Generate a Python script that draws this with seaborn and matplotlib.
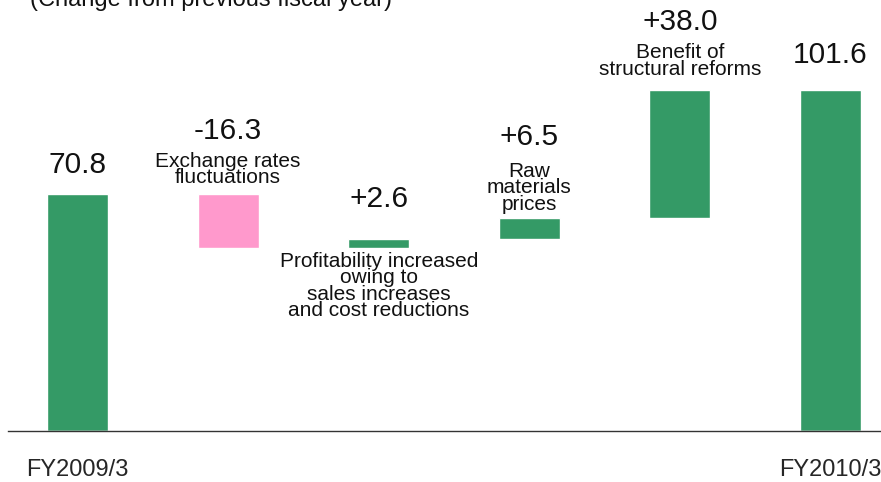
import numpy as np
import pandas as pd
import matplotlib
matplotlib.use("Agg")
import matplotlib.pyplot as plt
import seaborn as sns

# data
steps = ["FY2009/3", "Exchange", "Profitability", "Raw materials", "Structural", "FY2010/3"]
tick_labels = ["FY2009/3", "", "", "", "", "FY2010/3"]
start_value = 70.8
changes = [-16.3, 2.6, 6.5, 38.0]
end_value = 101.6
value_labels = ["70.8", "-16.3", "+2.6", "+6.5", "+38.0", "101.6"]
descriptions = [
    "",
    "Exchange rates\nfluctuations",
    "Profitability increased\nowing to\nsales increases\nand cost reductions",
    "Raw\nmaterials\nprices",
    "Benefit of\nstructural reforms",
    "",
]

green = "#349a66"
pink = "#ff99cc"

# waterfall bottoms / tops
levels = np.cumsum([start_value] + changes)
bottoms = [0.0] + [min(levels[i], levels[i + 1]) for i in range(len(changes))] + [0.0]
tops = [start_value] + [max(levels[i], levels[i + 1]) for i in range(len(changes))] + [end_value]
colors = [green] + [green if c >= 0 else pink for c in changes] + [green]

df = pd.DataFrame({"step": steps, "top": tops, "bottom": bottoms})

sns.set_style("white")
plt.rcParams["font.family"] = ["Liberation Sans", "DejaVu Sans"]

fig = plt.figure(figsize=(8.81, 4.82), dpi=100)
ax = fig.add_axes([0, 51 / 482, 1, 431 / 482])

sns.barplot(data=df, x="step", y="top", hue="step", palette=colors,
            width=0.405, legend=False, ax=ax, saturation=1)
sns.barplot(data=df, x="step", y="bottom", color="white",
            width=0.42, ax=ax, saturation=1)

ax.set_xlim(-0.515, 5.335)
ax.set_ylim(0, 128.5)

for s in ["top", "right", "left"]:
    ax.spines[s].set_visible(False)
ax.spines["bottom"].set_color("#333333")
ax.spines["bottom"].set_linewidth(1.0)
ax.spines["bottom"].set_bounds(-0.46, 5.335)
ax.set_yticks([])
ax.set_xlabel("")
ax.set_ylabel("")
ax.set_xticks(range(len(steps)))
ax.set_xticklabels(tick_labels, fontsize=17)
ax.tick_params(axis="x", length=3, width=0.6, color="#888888", pad=17)

# label layout (pixel offsets from bar top / bottom)
num_off = [29, 63, 40, 81, 68, 35]
desc_off = [0, 24, -38, 30, 29, 0]
desc_below = [False, False, True, False, False, False]

for i in range(len(steps)):
    ax.annotate(value_labels[i], (i, tops[i]), xytext=(0, num_off[i]),
                textcoords="offset pixels", ha="center", va="center",
                fontsize=21.5, color="#111111")
    if descriptions[i]:
        ref = bottoms[i] if desc_below[i] else tops[i]
        ax.annotate(descriptions[i], (i, ref), xytext=(0, desc_off[i]),
                    textcoords="offset pixels", ha="center", va="center",
                    fontsize=15, linespacing=0.83, color="#111111")

fig.text(30 / 881, 1 - 6 / 482, "(Change from previous fiscal year)",
         ha="left", va="baseline", fontsize=17, color="#111111")

fig.savefig("out.png", dpi=100)
